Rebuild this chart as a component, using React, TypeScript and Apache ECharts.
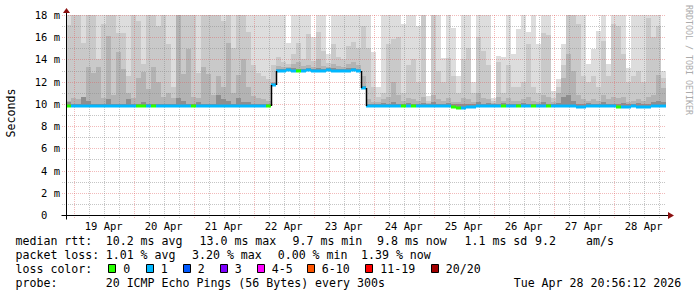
import React, { useEffect, useRef } from 'react';
import * as echarts from 'echarts';

// ---------- data (hours are counted from the left edge: Sat 18 Apr 20:56:12) ----------
const SPAN_HOURS = 240;
const BIN_HOURS = 2;
const Y_MAX = 18;
const FIRST_MIDNIGHT = 3.0633; // 19 Apr 00:00
const dayLabels = ['19 Apr', '20 Apr', '21 Apr', '22 Apr', '23 Apr', '24 Apr', '25 Apr', '26 Apr', '27 Apr', '28 Apr'];
const yTickValues = [0, 2, 4, 6, 8, 10, 12, 14, 16, 18];

// median rtt per 2h bin (ms)
const medianMs = [
  9.8, 9.8, 9.8, 9.8, 9.8, 9.8, 9.8, 9.8, 9.8, 9.8,
  9.8, 9.8, 9.8, 9.8, 9.8, 9.8, 9.8, 9.8, 9.8, 9.8,
  9.8, 9.8, 9.8, 9.8, 9.8, 9.8, 9.8, 9.8, 9.8, 9.8,
  9.8, 9.8, 9.8, 9.8, 9.8, 9.8, 9.8, 9.8, 9.8, 9.8,
  9.8, 11.7, 13.0, 13.0, 13.05, 13.0, 13.0, 13.0, 13.05, 13.0,
  13.0, 13.0, 13.05, 13.0, 13.0, 13.0, 13.0, 13.05, 13.0, 11.4,
  9.8, 9.8, 9.8, 9.8, 9.8, 9.8, 9.8, 9.8, 9.8, 9.8,
  9.8, 9.8, 9.8, 9.8, 9.8, 9.8, 9.8, 9.7, 9.65, 9.65,
  9.7, 9.75, 9.8, 9.8, 9.8, 9.8, 9.8, 9.8, 9.8, 9.8,
  9.8, 9.8, 9.8, 9.8, 9.8, 9.8, 9.8, 9.8, 9.8, 9.8,
  9.8, 9.8, 9.75, 9.75, 9.8, 9.8, 9.8, 9.8, 9.8, 9.8,
  9.75, 9.75, 9.75, 9.8, 9.72, 9.72, 9.75, 9.8, 9.8, 9.8,
];

// lost pings per bin (index into loss colours)
const lossCount = [
  0, 1, 1, 1, 1, 1, 1, 1, 1, 1,
  1, 1, 1, 1, 0, 0, 1, 0, 1, 1,
  1, 1, 1, 1, 1, 0, 1, 1, 1, 1,
  1, 1, 1, 1, 1, 1, 1, 1, 1, 1,
  0, 1, 1, 1, 1, 1, 0, 1, 1, 1,
  1, 1, 1, 1, 1, 1, 1, 1, 1, 1,
  1, 1, 1, 1, 1, 1, 1, 0, 1, 0,
  1, 1, 1, 1, 1, 1, 1, 0, 0, 1,
  1, 1, 1, 1, 1, 1, 1, 0, 1, 1,
  0, 1, 1, 0, 1, 1, 0, 1, 1, 1,
  1, 1, 1, 1, 1, 1, 1, 1, 1, 1,
  0, 1, 1, 1, 1, 1, 1, 1, 1, 1,
];

// smoke: top of each shade band per bin (ms); values above 18 are clipped
const smokeOuterMs = [
  18.5, 18.5, 18.5, 18.5, 18.5, 18.5, 18.5, 18.5, 18.5, 18.5,
  18.5, 18.5, 18.5, 18.5, 18.5, 18.5, 18.5, 18.5, 18.5, 18.5,
  18.5, 18.5, 18.5, 18.5, 18.5, 18.5, 18.5, 18.5, 18.5, 18.5,
  18.5, 18.5, 18.5, 18.5, 18.5, 18.5, 18.5, 18.5, 18.5, 18.5,
  18.5, 18.5, 18.5, 18.5, 15.5, 18.5, 18.5, 18.5, 18.5, 16.0,
  18.5, 18.5, 14.5, 18.5, 18.5, 18.5, 18.5, 18.5, 18.5, 18.5,
  18.5, 14.7, 11.5, 18.5, 18.5, 18.5, 18.5, 17.2, 18.5, 18.5,
  17.0, 18.5, 10.7, 18.5, 18.5, 14.1, 18.5, 16.8, 12.5, 18.5,
  18.5, 12.0, 18.5, 18.5, 18.5, 10.5, 14.3, 14.2, 18.5, 14.5,
  16.7, 18.5, 16.5, 18.5, 15.4, 18.5, 18.5, 11.2, 12.2, 15.4,
  18.5, 18.5, 18.5, 18.5, 13.6, 14.9, 16.6, 18.5, 13.6, 18.5,
  18.5, 18.5, 13.2, 18.5, 18.5, 18.5, 18.5, 18.5, 18.5, 13.0,
];
const smokeMidMs = [
  17.1, 18.5, 18.5, 15.5, 18.5, 18.5, 14.0, 17.2, 18.5, 18.5,
  16.4, 16.4, 12.5, 18.5, 17.5, 13.6, 18.5, 18.5, 17.0, 18.5,
  15.4, 11.5, 18.5, 18.5, 18.5, 18.5, 12.8, 18.5, 18.5, 18.5,
  18.5, 17.5, 18.5, 15.0, 18.5, 18.5, 16.5, 13.5, 12.8, 12.5,
  12.2, 13.5, 14.2, 13.8, 13.6, 14.5, 15.5, 14.0, 16.3, 13.9,
  16.5, 14.8, 13.7, 15.4, 14.2, 14.0, 15.2, 15.6, 15.0, 17.0,
  15.0, 11.5, 10.6, 11.0, 15.4, 15.8, 16.0, 11.0, 13.5, 14.0,
  12.0, 18.5, 10.3, 18.5, 13.0, 12.0, 14.1, 12.5, 11.0, 14.0,
  15.0, 11.0, 16.0, 14.8, 13.5, 10.3, 13.8, 11.0, 13.5, 11.5,
  11.5, 12.0, 15.4, 11.5, 11.0, 16.4, 16.2, 10.5, 11.5, 13.5,
  18.5, 18.5, 17.2, 12.5, 12.0, 12.5, 11.5, 15.7, 12.5, 17.2,
  17.0, 14.5, 12.0, 12.5, 13.0, 12.0, 17.7, 16.0, 17.0, 12.3,
];
const smokeInnerMs = [
  10.3, 10.5, 10.4, 10.6, 13.3, 12.8, 13.3, 10.5, 16.1, 10.8,
  14.7, 13.1, 11.0, 10.5, 12.3, 12.9, 11.3, 13.3, 12.0, 10.6,
  11.0, 10.5, 18.5, 12.7, 14.9, 10.6, 10.5, 13.3, 12.7, 10.8,
  12.5, 11.5, 15.5, 11.0, 12.6, 14.0, 11.5, 10.7, 10.5, 10.4,
  10.3, 12.0, 13.4, 13.3, 13.3, 13.6, 13.8, 13.4, 13.5, 13.3,
  14.0, 13.4, 13.3, 13.6, 13.4, 13.3, 13.6, 13.8, 13.5, 12.5,
  10.4, 10.2, 10.2, 10.4, 10.6, 12.0, 10.8, 10.3, 10.5, 10.4,
  10.3, 10.6, 10.1, 10.8, 10.4, 10.3, 10.5, 10.2, 10.2, 10.5,
  10.4, 10.2, 11.0, 10.5, 10.4, 10.1, 10.6, 10.3, 10.5, 10.3,
  10.3, 10.4, 10.6, 10.3, 10.2, 10.8, 10.6, 10.2, 11.0, 12.3,
  14.5, 13.0, 10.8, 10.4, 10.3, 10.4, 10.3, 10.8, 10.4, 10.6,
  10.5, 10.6, 10.2, 10.3, 10.4, 10.3, 10.6, 10.8, 12.6, 11.4,
];
const smokeCoreMs = [
  10.2, 10.0, 10.0, 10.6, 10.3, 10.0, 10.0, 10.0, 10.4, 10.0,
  10.0, 10.0, 10.4, 10.0, 10.0, 10.2, 10.0, 10.0, 10.0, 10.0,
  10.0, 10.0, 10.5, 10.3, 10.0, 10.0, 10.2, 10.0, 10.0, 10.0,
  10.8, 10.4, 10.3, 10.0, 10.5, 10.2, 10.2, 10.0, 10.0, 10.0,
  10.0, 11.9, 13.15, 13.15, 13.2, 13.2, 13.15, 13.15, 13.2, 13.15,
  13.2, 13.15, 13.2, 13.2, 13.15, 13.15, 13.2, 13.2, 13.15, 11.6,
  10.0, 10.0, 10.0, 10.1, 10.0, 10.2, 10.0, 10.0, 10.1, 10.0,
  10.0, 10.1, 10.0, 10.2, 10.0, 10.0, 10.1, 10.0, 10.0, 10.0,
  10.0, 10.0, 10.2, 10.0, 10.1, 10.0, 10.0, 10.1, 10.0, 10.0,
  10.0, 10.1, 10.0, 10.0, 10.0, 10.2, 10.0, 10.0, 10.1, 10.6,
  10.8, 10.3, 10.0, 10.0, 10.1, 10.0, 10.0, 10.2, 10.0, 10.0,
  10.0, 10.1, 10.0, 10.0, 10.1, 10.0, 10.0, 10.2, 10.3, 10.2,
];

const lossLegend = ['0', '1', '2', '3', '4-5', '6-10', '11-19', '20/20'];
const rttStats = ['10.2 ms avg', '13.0 ms max', '9.7 ms min', '9.8 ms now', '1.1 ms sd', '9.2', 'am/s'];
const lossStats = ['1.01 % avg', '3.20 % max', '0.00 % min', '1.39 % now'];
const probeText = '20 ICMP Echo Pings (56 Bytes) every 300s';
const stampText = 'Tue Apr 28 20:56:12 2026';

// ---------- styles ----------
const MONO = '"DejaVu Sans Mono", "Liberation Mono", monospace';
const LOSS_COLORS = ['#26ff00', '#00b8ff', '#0059ff', '#7e00ff', '#ff00ff', '#ff5500', '#ff0000', '#a10000'];
const SMOKE_COLORS = ['#dddddd', '#c9c9c9', '#b3b3b3', '#8e8e8e'];
const MGRID = 'rgba(225, 90, 90, 0.42)';
const GRID = 'rgba(140, 140, 140, 0.5)';
const ARROW = '#8b1010';

const rttX = [105.7, 199.5, 292.5, 377, 464.5, 535, 586];
const lossX = [105.7, 192, 277.7, 361];
const boxX = [108, 145.5, 182.5, 219.5, 256.5, 306.5, 365, 430.5];
const lineY = [241, 255, 269, 283];

export default function App() {
  const ref = useRef<HTMLDivElement>(null);

  useEffect(() => {
    if (!ref.current) return;
    const chart = echarts.init(ref.current, undefined, { renderer: 'svg' });

    const binData = medianMs.map((m, i) => [
      i * BIN_HOURS, (i + 1) * BIN_HOURS, m,
      smokeOuterMs[i], smokeMidMs[i], smokeInnerMs[i], smokeCoreMs[i],
      lossCount[i], i > 0 ? medianMs[i - 1] : m,
    ]);

    const vLines: number[][] = [];
    for (let h = FIRST_MIDNIGHT, k = 0; h < SPAN_HOURS; h += 6, k++) {
      vLines.push([h, 0, k % 4 === 0 ? 1 : 0]);
    }
    const hLines: number[][] = [];
    for (let m = 1; m <= Y_MAX; m++) hLines.push([0, m, m % 2 === 0 ? 1 : 0]);

    const noonHours = dayLabels.map((_, k) => FIRST_MIDNIGHT + 12 + 24 * k);

    const txt = (x: number, y: number, text: string, extra: any = {}) => ({
      type: 'text', x, y, silent: true,
      style: { text, fill: '#000', font: `11.6px ${MONO}`, verticalAlign: 'middle', align: 'left', ...extra },
    });

    const graphic: any[] = [];
    graphic.push(txt(15.5, lineY[0], 'median rtt:'));
    rttStats.forEach((s, i) => graphic.push(txt(rttX[i], lineY[0], s)));
    graphic.push(txt(15.5, lineY[1], 'packet loss:'));
    lossStats.forEach((s, i) => graphic.push(txt(lossX[i], lineY[1], s)));
    graphic.push(txt(15.5, lineY[2], 'loss color:'));
    lossLegend.forEach((s, i) => {
      graphic.push({
        type: 'rect', silent: true,
        shape: { x: Math.round(boxX[i]) + 0.5, y: 264.5, width: 7, height: 8 },
        style: { fill: LOSS_COLORS[i], stroke: '#000', lineWidth: 1 },
      });
      graphic.push(txt(boxX[i] + 15.3, lineY[2], s));
    });
    graphic.push(txt(15.5, lineY[3], 'probe:'));
    graphic.push(txt(105.7, lineY[3], probeText));
    graphic.push(txt(513.7, lineY[3], stampText));
    graphic.push({
      type: 'text', x: 11, y: 113, rotation: Math.PI / 2, silent: true,
      style: { text: 'Seconds', fill: '#000', font: `11.6px ${MONO}`, align: 'center', verticalAlign: 'middle' },
    });
    graphic.push({
      type: 'text', x: 688.5, y: 60, rotation: -Math.PI / 2, silent: true,
      style: { text: 'RRDTOOL / TOBI OETIKER', fill: '#ababab', font: `8.3px ${MONO}`, align: 'center', verticalAlign: 'middle' },
    });

    const option: any = {
      animation: false,
      backgroundColor: '#ffffff',
      grid: { left: 66, top: 15, width: 600, height: 200, containLabel: false, outerBoundsMode: 'none' },
      xAxis: {
        type: 'value', min: 0, max: SPAN_HOURS,
        axisLine: { show: false }, axisTick: { show: false }, splitLine: { show: false },
        axisLabel: {
          customValues: noonHours,
          formatter: (v: number) => dayLabels[Math.round((v - FIRST_MIDNIGHT - 12) / 24)] ?? '',
          color: '#000', fontFamily: MONO, fontSize: 10.5, margin: 5,
        },
      },
      yAxis: {
        type: 'value', min: 0, max: Y_MAX, interval: 2,
        axisLine: { show: false }, axisTick: { show: false }, splitLine: { show: false },
        axisLabel: {
          formatter: (v: number) => (v === 0 ? '0\u00a0\u00a0' : `${v} m`),
          color: '#000', fontFamily: MONO, fontSize: 10.5, margin: 6,
        },
      },
      graphic,
      series: [
        {
          type: 'custom', name: 'smoke', z: 1, silent: true,
          encode: { x: [0, 1], y: 2 },
          data: binData,
          renderItem: (_p: any, api: any) => {
            const t0 = api.value(0), t1 = api.value(1), med = api.value(2);
            const xL = Math.round(api.coord([t0, 0])[0]);
            const xR = Math.round(api.coord([t1, 0])[0]);
            const yMed = Math.round(api.coord([t0, med])[1]);
            const children: any[] = [];
            [3, 4, 5, 6].forEach((dim, k) => {
              const v = Math.min(api.value(dim), Y_MAX);
              if (v <= med) return;
              const yTop = Math.round(api.coord([t0, v])[1]);
              children.push({
                type: 'rect',
                shape: { x: xL, y: yTop, width: xR - xL, height: yMed - yTop },
                style: { fill: SMOKE_COLORS[k] },
              });
            });
            return { type: 'group', children };
          },
        },
        {
          type: 'custom', name: 'hgrid', z: 2, silent: true,
          encode: { x: 0, y: 1 },
          data: hLines,
          renderItem: (_p: any, api: any) => {
            const a = api.coord([0, api.value(1)]);
            const b = api.coord([SPAN_HOURS, api.value(1)]);
            const y = Math.round(a[1]) + 0.5;
            return {
              type: 'line',
              shape: { x1: Math.round(a[0]) - 4, y1: y, x2: Math.round(b[0]), y2: y },
              style: { stroke: api.value(2) ? MGRID : GRID, lineWidth: 1, lineDash: [1, 1] },
            };
          },
        },
        {
          type: 'custom', name: 'vgrid', z: 2, silent: true,
          encode: { x: 0, y: 1 },
          data: vLines,
          renderItem: (_p: any, api: any) => {
            const a = api.coord([api.value(0), 0]);
            const b = api.coord([api.value(0), Y_MAX]);
            const x = Math.round(a[0]) + 0.5;
            return {
              type: 'line',
              shape: { x1: x, y1: Math.round(a[1]) + 3, x2: x, y2: Math.round(b[1]) },
              style: { stroke: api.value(2) ? MGRID : GRID, lineWidth: 1, lineDash: [1, 1] },
            };
          },
        },
        {
          type: 'custom', name: 'median', z: 3, silent: true,
          encode: { x: [0, 1], y: 2 },
          data: binData,
          renderItem: (_p: any, api: any) => {
            const t0 = api.value(0), t1 = api.value(1), med = api.value(2);
            const loss = api.value(7), prev = api.value(8);
            const xL = Math.round(api.coord([t0, 0])[0]);
            const xR = Math.round(api.coord([t1, 0])[0]);
            const y = api.coord([t0, med])[1];
            const children: any[] = [{
              type: 'rect',
              shape: { x: xL, y: Math.round(y) - 1.5, width: xR - xL, height: 3 },
              style: { fill: LOSS_COLORS[loss] },
            }];
            if (Math.abs(prev - med) > 0.5) {
              const yp = api.coord([t0, prev])[1];
              children.push({
                type: 'line',
                shape: { x1: xL + 0.5, y1: Math.round(yp), x2: xL + 0.5, y2: Math.round(y) },
                style: { stroke: '#000', lineWidth: 1.5 },
              });
            }
            return { type: 'group', children };
          },
        },
        {
          type: 'custom', name: 'frame', z: 4, silent: true,
          encode: { x: 0, y: 1 },
          data: [[0, 0]],
          renderItem: (_p: any, api: any) => {
            const o = api.coord([0, 0]);
            const top = api.coord([0, Y_MAX]);
            const right = api.coord([SPAN_HOURS, 0]);
            const x = Math.round(o[0]) + 0.5;
            const y = Math.round(o[1]) + 0.5;
            const yt = Math.round(top[1]);
            const xr = Math.round(right[0]);
            return {
              type: 'group',
              children: [
                { type: 'line', shape: { x1: x, y1: y + 4, x2: x, y2: yt - 2 }, style: { stroke: '#000', lineWidth: 1 } },
                { type: 'line', shape: { x1: x - 5, y1: y, x2: xr + 2, y2: y }, style: { stroke: '#000', lineWidth: 1 } },
                { type: 'polygon', shape: { points: [[x - 3.5, yt - 2], [x + 3.5, yt - 2], [x, yt - 7]] }, style: { fill: ARROW } },
                { type: 'polygon', shape: { points: [[xr + 2, y - 3.5], [xr + 2, y + 3.5], [xr + 8, y]] }, style: { fill: ARROW } },
              ],
            };
          },
        },
      ],
    };

    chart.setOption(option);
    return () => chart.dispose();
  }, []);

  return <div ref={ref} style={{ position: 'fixed', left: 0, top: 0, width: 697, height: 297 }} />;
}
